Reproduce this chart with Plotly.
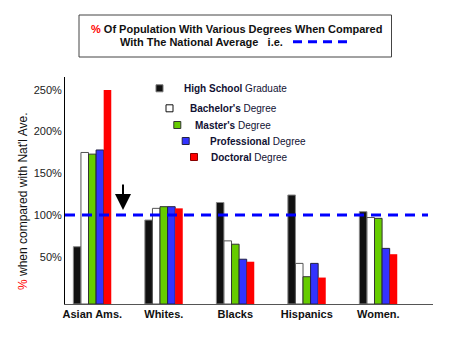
import plotly.graph_objects as go

# ---- data ----
categories = ["Asian Ams.", "Whites.", "Blacks", "Hispanics", "Women."]
high_school = [62, 94, 115, 124, 104]
bachelors = [175, 108, 69, 42, 97]
masters = [173, 110, 65, 26, 96]
professional = [178, 110, 47, 42, 60]
doctoral = [250, 108, 44, 25, 53]
series_bold = ["High School", "Bachelor's", "Master's", "Professional", "Doctoral"]
series_rest = ["Graduate", "Degree", "Degree", "Degree", "Degree"]
national_average = 100
y_ticks = [50, 100, 150, 200, 250]
y_tick_labels = ["50%", "100%", "150%", "200%", "250%"]

series_values = [high_school, bachelors, masters, professional, doctoral]

# ---- styles ----
FONT = "Arial, 'Liberation Sans', sans-serif"
fills = ["#111111", "#ffffff", "#66cc00", "#3333ff", "#ff0000"]
outlines = ["#888888", "#555555", "#333333", "#222244", "#ff0000"]
outline_w = [1, 1, 1, 1, 0]

Y_MIN, Y_MAX = -6.7, 265.5
W, H = 451, 341
L, R, T, B = 65, 18, 77, 37
PW, PH = W - L - R, H - T - B


def px(x):
    return (x - L) / PW


def py(y):
    return (H - B - y) / PH


fig = go.Figure()
for i, vals in enumerate(series_values):
    fig.add_trace(go.Bar(
        x=categories,
        y=[v - Y_MIN for v in vals],
        base=[Y_MIN] * len(vals),
        name=series_bold[i] + " " + series_rest[i],
        marker=dict(color=fills[i], line=dict(color=outlines[i], width=outline_w[i])),
        showlegend=False,
    ))

shapes = []
annotations = []

# national average dashed line
shapes.append(dict(type="line", xref="paper", yref="y", x0=0, x1=px(428),
                   y0=national_average, y1=national_average,
                   line=dict(color="#0000ff", width=3, dash="10px,7px"), layer="above"))

# title box
shapes.append(dict(type="rect", xref="paper", yref="paper", x0=px(79), x1=px(391.5),
                   y0=py(57), y1=py(15), line=dict(color="#444444", width=1),
                   fillcolor="rgba(0,0,0,0)"))
annotations.append(dict(xref="paper", yref="paper", x=px(236), y=py(28.5),
                        xanchor="center", yanchor="middle", showarrow=False,
                        text="<b><span style='color:#ff0000'>%</span> Of Population With Various Degrees When Compared</b>",
                        font=dict(family=FONT, size=11, color="#111111")))
annotations.append(dict(xref="paper", yref="paper", x=px(285), y=py(41.7),
                        xanchor="right", yanchor="middle", showarrow=False,
                        text="<b>With The National Average   i.e.</b>",
                        font=dict(family=FONT, size=11, color="#111111")))
shapes.append(dict(type="line", xref="paper", yref="paper", x0=px(293), x1=px(352),
                   y0=py(41.7), y1=py(41.7),
                   line=dict(color="#0000ff", width=3, dash="9px,6px")))

# legend (staggered)
sq_centers = [(159.5, 88.3), (169.5, 108.3), (177.3, 125), (185.7, 141), (194, 157)]
text_starts = [181.7, 187.7, 193.3, 208.3, 209.3]
sq_lines = ["#777777", "#111111", "#333333", "#222244", "#880000"]
for i in range(5):
    cx, cy = sq_centers[i]
    shapes.append(dict(type="rect", xref="paper", yref="paper",
                       x0=px(cx - 3.5), x1=px(cx + 3.5), y0=py(cy + 3.5), y1=py(cy - 3.5),
                       fillcolor=fills[i], line=dict(color=sq_lines[i], width=1)))
    annotations.append(dict(xref="paper", yref="paper", x=px(text_starts[i]), y=py(cy),
                            xanchor="left", yanchor="middle", showarrow=False,
                            text="<b>" + series_bold[i] + "</b> " + series_rest[i],
                            font=dict(family=FONT, size=10, color="#111133")))

# y axis title
annotations.append(dict(xref="paper", yref="paper", x=px(23), y=py(201),
                        xanchor="center", yanchor="middle", showarrow=False, textangle=-90,
                        text="<span style='color:#ff0000'>%</span> when compared with Nat'l Ave.",
                        font=dict(family=FONT, size=12, color="#111111")))

# arrow
annotations.append(dict(xref="paper", yref="paper", x=px(123), y=py(210), ax=0, ay=-27,
                        text="", showarrow=True, arrowhead=2, arrowsize=1.6, arrowwidth=2,
                        arrowcolor="#000000"))

fig.update_layout(
    width=W, height=H,
    margin=dict(l=L, r=R, t=T, b=B),
    paper_bgcolor="white", plot_bgcolor="white",
    barmode="group", bargap=0.47, bargroupgap=0,
    shapes=shapes, annotations=annotations,
    font=dict(family=FONT, color="#111111"),
    xaxis=dict(range=[-0.382, 4.765], showline=True, linecolor="#555555", linewidth=1,
               showgrid=False, zeroline=False, ticks="",
               tickfont=dict(family=FONT, size=11, color="#111111"),
               tickprefix="<b>", ticksuffix="</b>"),
    yaxis=dict(range=[Y_MIN, Y_MAX], showline=True, linecolor="#000000", linewidth=1,
               showgrid=False, zeroline=False, ticks="",
               tickvals=y_ticks, ticktext=y_tick_labels,
               tickfont=dict(family=FONT, size=11, color="#222222")),
)

fig.write_html("out.html")
